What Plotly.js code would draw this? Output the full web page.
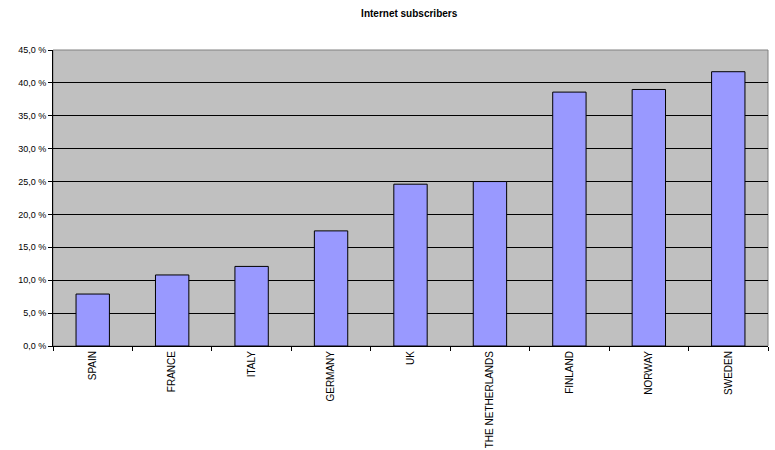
<!DOCTYPE html>
<html>
<head>
<meta charset="utf-8">
<script src="https://cdn.plot.ly/plotly-3.0.1.min.js"></script>
<style>html,body{margin:0;padding:0;background:#fff;}#chart{width:775px;height:450px;}</style>
</head>
<body>
<div id="chart"></div>
<script>
const countries = ["SPAIN", "FRANCE", "ITALY", "GERMANY", "UK", "THE NETHERLANDS", "FINLAND", "NORWAY", "SWEDEN"];
const subscribers = [7.9, 10.8, 12.1, 17.5, 24.6, 25.0, 38.6, 39.0, 41.7];
const yTickVals = [0, 5, 10, 15, 20, 25, 30, 35, 40, 45];
const yTickText = ["0,0 %", "5,0 %", "10,0 %", "15,0 %", "20,0 %", "25,0 %", "30,0 %", "35,0 %", "40,0 %", "45,0 %"];

const trace = {
  type: "bar",
  x: countries,
  y: subscribers,
  marker: { color: "#9999FF", line: { color: "#000000", width: 1 } },
  hoverinfo: "x+y"
};

const layout = {
  width: 775, height: 450,
  margin: { l: 53, r: 7, t: 50, b: 104, pad: 0 },
  paper_bgcolor: "#ffffff",
  plot_bgcolor: "#C0C0C0",
  showlegend: false,
  bargap: 0.58,
  font: { family: "Arial, 'Liberation Sans', sans-serif", size: 9, color: "#000" },
  title: {
    text: "<b>Internet subscribers</b>",
    font: { family: "Arial, 'Liberation Sans', sans-serif", size: 10, color: "#000" },
    x: 0.528, xanchor: "center", y: 0.97, yanchor: "middle"
  },
  xaxis: {
    type: "category",
    tickangle: -90,
    ticks: "outside", ticklen: 4, tickcolor: "#000",
    tickson: "boundaries",
    showline: true, linecolor: "#000", linewidth: 1,
    showgrid: false,
    tickfont: { size: 10 },
    automargin: false
  },
  yaxis: {
    range: [0, 45],
    tickvals: yTickVals, ticktext: yTickText,
    ticks: "outside", ticklen: 4, tickcolor: "#000",
    showline: true, linecolor: "#000", linewidth: 1,
    showgrid: true, gridcolor: "#000", gridwidth: 1,
    zeroline: false,
    tickfont: { size: 9 },
    automargin: false
  },
  shapes: [{
    type: "rect", xref: "paper", yref: "paper", x0: 0, x1: 1, y0: 0, y1: 1,
    line: { color: "#808080", width: 1 }, layer: "below"
  }]
};

Plotly.newPlot("chart", [trace], layout, { displayModeBar: false, staticPlot: true });
</script>
</body>
</html>
